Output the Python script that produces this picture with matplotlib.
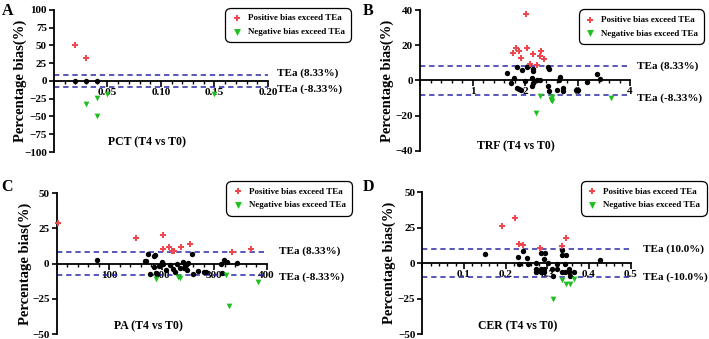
import matplotlib
matplotlib.use("Agg")
import matplotlib.pyplot as plt
import matplotlib.transforms as mtransforms
from matplotlib.ticker import MultipleLocator, FuncFormatter

# ---------------- data ----------------
# Panel A: PCT
a_pos_x = [0.02, 0.03]
a_pos_y = [50, 33]
a_neg_x = [0.03, 0.04, 0.04, 0.05, 0.15]
a_neg_y = [-33, -24, -50, -18, -18]
a_in_x = [0.02, 0.03, 0.04]
a_in_y = [0, 0, 0]

# Panel B: TRF
b_pos_x = [1.77, 1.82, 1.89, 1.92, 2.01, 2.04, 2.10, 2.15, 2.22, 2.28, 2.30, 2.37]
b_pos_y = [15.5, 18.5, 17.0, 12.5, 37.5, 18.5, 9.3, 14.8, 9.0, 13.8, 16.8, 12.3]
b_neg_x = [2.28, 2.20, 2.49, 2.51, 2.52, 2.50, 3.64]
b_neg_y = [-8.7, -18.4, -10.4, -11.8, -9.5, -11.0, -9.7]
b_in_x = [1.66, 1.73, 1.79, 1.84, 1.84, 1.92, 1.95, 2.00, 2.03, 2.06, 2.14, 2.16,
          2.16, 2.15, 2.13, 2.22, 2.29, 2.43, 2.46, 2.44, 2.46, 2.60, 2.65, 2.67,
          2.73, 2.73, 3.00, 3.19, 3.37, 3.43, 1.88, 2.97]
b_in_y = [4.3, -1.4, 1.6, 7.7, -4.5, -5.5, 5.8, -0.4, 7.7, 8.0, 1.6, 6.6,
          5.5, -1.4, -3.3, 0.0, 0.0, 7.4, 6.3, -3.4, -6.0, -5.2, 0.4, 2.0,
          -4.0, -6.0, -5.2, -0.8, 3.5, 0.9, -5.0, -5.3]

# Panel C: PA
c_pos_x = [3, 152, 202, 203, 214, 220, 223, 237, 255, 335, 370]
c_pos_y = [28.6, 18.0, 20.2, 10.2, 11.9, 9.0, 9.0, 11.9, 14.3, 8.6, 10.7]
c_neg_x = [189, 231, 235, 323, 328, 384]
c_neg_y = [-10.7, -9.5, -10.0, -8.4, -30.3, -13.1]
c_in_x = [78, 168, 170, 175, 187, 178, 186, 189, 192, 195, 200, 203, 209, 216,
          221, 225, 230, 235, 240, 242, 246, 248, 251, 258, 260, 270, 280, 284,
          314, 318, 324, 316, 343, 185]
c_in_y = [2.4, 1.9, 1.9, 7.1, 5.9, -7.1, -2.4, -6.4, -7.1, -1.9, 1.2, -0.5,
          -4.3, -1.2, -3.6, -6.0, -0.5, -3.1, 1.2, -3.1, -1.2, -4.8, 0.5, 7.1,
          -7.1, -5.4, -6.0, -6.0, 0.0, 2.9, 1.2, -6.4, 0.7, 5.4]

# Panel D: CER
d_pos_x = [0.191, 0.222, 0.232, 0.243, 0.283, 0.335, 0.344]
d_pos_y = [26.4, 31.8, 13.2, 12.7, 10.9, 12.3, 17.6]
d_neg_x = [0.335, 0.345, 0.355, 0.364, 0.313]
d_neg_y = [-12.2, -14.6, -14.6, -11.0, -25.6]
d_in_x = [0.151, 0.231, 0.232, 0.243, 0.252, 0.254, 0.273, 0.273, 0.273, 0.284,
          0.295, 0.284, 0.284, 0.292, 0.293, 0.293, 0.303, 0.312, 0.315, 0.323,
          0.323, 0.335, 0.335, 0.345, 0.343, 0.335, 0.343, 0.353, 0.353, 0.355,
          0.364, 0.427]
d_in_y = [6.6, 4.2, -0.9, 8.5, 3.8, -0.4, 0.0, -4.0, -6.3, 7.1,
          7.1, -4.0, -6.3, 3.1, -4.0, -6.3, 0.0, -4.0, -9.4, -0.4,
          -4.0, 9.0, 6.1, 6.1, -0.4, -6.3, -6.3, -4.0, -6.3, -9.4,
          -6.3, 2.4]

panel_letters = ["A", "B", "C", "D"]
x_labels = ["PCT (T4 vs T0)", "TRF (T4 vs T0)", "PA (T4 vs T0)", "CER (T4 vs T0)"]
tea_values = [8.33, 8.33, 8.33, 10.0]
tea_labels_up = ["TEa (8.33%)", "TEa (8.33%)", "TEa (8.33%)", "TEa (10.0%)"]
tea_labels_dn = ["TEa (-8.33%)", "TEa (-8.33%)", "TEa (-8.33%)", "TEa (-10.0%)"]
x_max = [0.20, 4, 400, 0.5]
x_major = [0.05, 1, 100, 0.1]
y_lim = [100, 40, 50, 50]
y_step = [25, 20, 25, 25]
x_fmt = ["{:.2f}", "{:.0f}", "{:.0f}", "{:.1f}"]
legend_labels = ["Positive bias exceed TEa", "Negative bias exceed TEa"]

data = [
    (a_pos_x, a_pos_y, a_neg_x, a_neg_y, a_in_x, a_in_y),
    (b_pos_x, b_pos_y, b_neg_x, b_neg_y, b_in_x, b_in_y),
    (c_pos_x, c_pos_y, c_neg_x, c_neg_y, c_in_x, c_in_y),
    (d_pos_x, d_pos_y, d_neg_x, d_neg_y, d_in_x, d_in_y),
]

# ---------------- style ----------------
SERIF = ["Liberation Serif", "DejaVu Serif"]
plt.rcParams["font.family"] = SERIF
plt.rcParams["font.weight"] = "bold"

RED = "#f0474f"
GREEN = "#1fbf1f"
BLUE = "#2a2aa8"

fig = plt.figure(figsize=(7.09, 3.39), dpi=100)

axes_pos = [
    [0.076, 0.5516, 0.302, 0.419],
    [0.5924, 0.5546, 0.2962, 0.4159],
    [0.0797, 0.0147, 0.2963, 0.4151],
    [0.5956, 0.0147, 0.2937, 0.4180],
]
ylabel_x = [-0.126, -0.124, -0.117, -0.128]
tea_x = [1.04, 1.032, 1.06, 1.061]
# vertical nudge of TEa texts, in pixels
tea_up_px = [2.0, 0.0, 0.7, 0.3]
tea_dn_px = [-2.0, -2.8, -1.7, 0.1]
xlabel_pos = [(0.207, 0.581), (0.727, 0.569), (0.2097, 0.036), (0.7306, 0.036)]
letter_pos = [(0.002, 0.992), (0.512, 0.992), (0.002, 0.472), (0.512, 0.472)]
legend_anchor = [(0.493, 0.972), (0.991, 0.967), (0.494, 0.461), (0.994, 0.461)]

for i in range(4):
    ax = fig.add_axes(axes_pos[i])
    px, py, nx, ny, ix, iy = data[i]
    ax.scatter(ix, iy, s=15, c="black", marker="o", linewidths=0, zorder=3, clip_on=False)
    hp = ax.scatter(px, py, s=17, c=RED, marker="P", linewidths=0, zorder=3, clip_on=False)
    hn = ax.scatter(nx, ny, s=17, c=GREEN, marker="v", linewidths=0, zorder=3, clip_on=False)

    t = tea_values[i]
    ax.axhline(t, color=BLUE, ls=(0, (3.5, 2.5)), lw=1.1, zorder=2)
    ax.axhline(-t, color=BLUE, ls=(0, (3.5, 2.5)), lw=1.1, zorder=2)

    ax.set_xlim(0, x_max[i])
    ax.set_ylim(-y_lim[i], y_lim[i])
    ax.spines["top"].set_visible(False)
    ax.spines["right"].set_visible(False)
    ax.spines["bottom"].set_position(("data", 0))
    ax.spines["left"].set_linewidth(1.3)
    ax.spines["bottom"].set_linewidth(1.3)
    ax.patch.set_alpha(0)

    ax.xaxis.set_major_locator(MultipleLocator(x_major[i]))
    ax.xaxis.set_minor_locator(MultipleLocator(x_major[i] / 5))
    fmt = x_fmt[i]
    ax.xaxis.set_major_formatter(FuncFormatter(lambda v, p, f=fmt: "" if abs(v) < 1e-9 else f.format(v)))
    ax.yaxis.set_major_locator(MultipleLocator(y_step[i]))
    ax.tick_params(axis="x", which="major", length=4, width=1.2, direction="out",
                   labelsize=8, pad=1)
    ax.tick_params(axis="x", which="minor", length=2.5, width=1.0, direction="out")
    ax.tick_params(axis="y", which="major", length=3.5, width=1.2, direction="out",
                   labelsize=8, pad=1.5)
    for lab in ax.get_xticklabels() + ax.get_yticklabels():
        lab.set_fontweight("bold")

    ax.set_ylabel("Percentage bias(%)", fontsize=10.5, fontweight="bold")
    ax.yaxis.set_label_coords(ylabel_x[i], 0.5)

    tr = mtransforms.blended_transform_factory(ax.transAxes, ax.transData)
    up = mtransforms.offset_copy(tr, fig=fig, x=0, y=tea_up_px[i], units="dots")
    dn = mtransforms.offset_copy(tr, fig=fig, x=0, y=tea_dn_px[i], units="dots")
    ax.text(tea_x[i], t, tea_labels_up[i], transform=up,
            fontsize=8, fontweight="bold", va="center", ha="left")
    ax.text(tea_x[i], -t, tea_labels_dn[i], transform=dn,
            fontsize=8, fontweight="bold", va="center", ha="left")

    fig.text(xlabel_pos[i][0], xlabel_pos[i][1], x_labels[i], fontsize=8.5,
             fontweight="bold", ha="center", va="center")
    fig.text(letter_pos[i][0], letter_pos[i][1], panel_letters[i], fontsize=11.5,
             fontweight="bold", ha="left", va="top")

    leg = fig.legend([hp, hn], legend_labels, loc="upper right",
                     bbox_to_anchor=legend_anchor[i], frameon=True,
                     fancybox=True, edgecolor="black", framealpha=1,
                     handletextpad=0.6, borderpad=0.5, labelspacing=0.6,
                     handlelength=1.2, borderaxespad=0, markerscale=1.2,
                     prop={"family": SERIF, "weight": "bold", "size": 6.5})
    leg.get_frame().set_linewidth(0.9)
    leg.get_frame().set_boxstyle("round,pad=0.2,rounding_size=0.6")

fig.savefig("out.png", dpi=100)
